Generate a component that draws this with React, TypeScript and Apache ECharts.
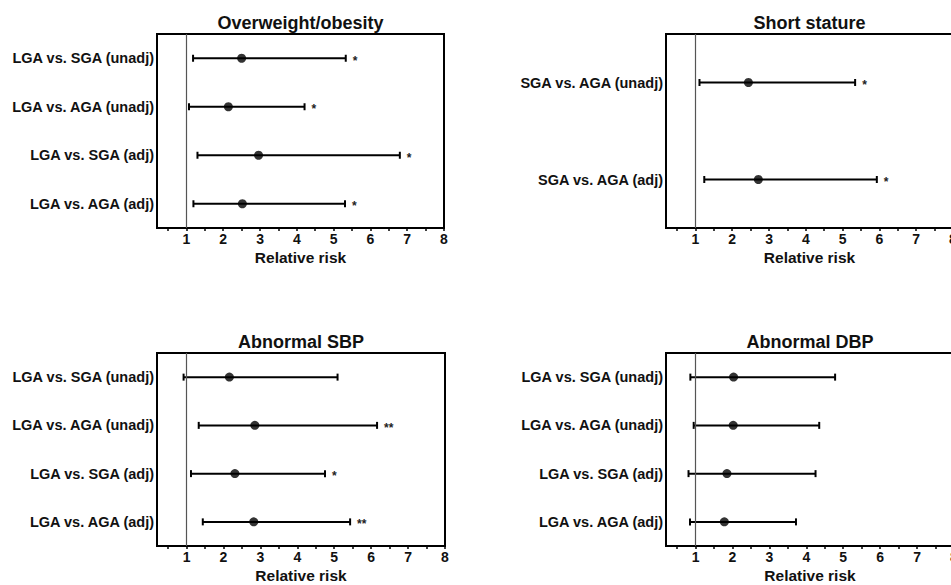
import React, { useEffect, useRef } from "react";
import * as echarts from "echarts";

const FONT = "'Liberation Sans', Arial, Helvetica, sans-serif";

// Shared axis
const xLabelValues = [1, 2, 3, 4, 5, 6, 7, 8];
const xTickValues = [0.5, 1, 1.5, 2, 2.5, 3, 3.5, 4, 4.5, 5, 5.5, 6, 6.5, 7, 7.5, 8];
const xMin = 0.2;
const xMax = 8;
const xName = "Relative risk";

// Panel 1: Overweight/obesity
const owTitle = "Overweight/obesity";
const owCategories = ["LGA vs. SGA (unadj)", "LGA vs. AGA (unadj)", "LGA vs. SGA (adj)", "LGA vs. AGA (adj)"];
const owRR = [2.5, 2.14, 2.96, 2.52];
const owLower = [1.18, 1.07, 1.3, 1.19];
const owUpper = [5.33, 4.21, 6.8, 5.31];
const owSig = ["*", "*", "*", "*"];

// Panel 2: Short stature
const ssTitle = "Short stature";
const ssCategories = ["SGA vs. AGA (unadj)", "SGA vs. AGA (adj)"];
const ssRR = [2.44, 2.71];
const ssLower = [1.11, 1.24];
const ssUpper = [5.34, 5.93];
const ssSig = ["*", "*"];

// Panel 3: Abnormal SBP
const sbpTitle = "Abnormal SBP";
const sbpCategories = ["LGA vs. SGA (unadj)", "LGA vs. AGA (unadj)", "LGA vs. SGA (adj)", "LGA vs. AGA (adj)"];
const sbpRR = [2.16, 2.85, 2.31, 2.82];
const sbpLower = [0.92, 1.33, 1.12, 1.44];
const sbpUpper = [5.09, 6.16, 4.75, 5.43];
const sbpSig = ["", "**", "*", "**"];

// Panel 4: Abnormal DBP
const dbpTitle = "Abnormal DBP";
const dbpCategories = ["LGA vs. SGA (unadj)", "LGA vs. AGA (unadj)", "LGA vs. SGA (adj)", "LGA vs. AGA (adj)"];
const dbpRR = [2.03, 2.02, 1.85, 1.78];
const dbpLower = [0.86, 0.95, 0.81, 0.85];
const dbpUpper = [4.78, 4.35, 4.25, 3.72];
const dbpSig = ["", "", "", ""];

const panels = [
  { title: owTitle, cats: owCategories, rr: owRR, lo: owLower, hi: owUpper, sig: owSig, box: { left: 157, top: 34, width: 287, height: 194 } },
  { title: ssTitle, cats: ssCategories, rr: ssRR, lo: ssLower, hi: ssUpper, sig: ssSig, box: { left: 666, top: 34, width: 287, height: 194 } },
  { title: sbpTitle, cats: sbpCategories, rr: sbpRR, lo: sbpLower, hi: sbpUpper, sig: sbpSig, box: { left: 157, top: 353, width: 288, height: 193 } },
  { title: dbpTitle, cats: dbpCategories, rr: dbpRR, lo: dbpLower, hi: dbpUpper, sig: dbpSig, box: { left: 666, top: 353, width: 288, height: 193 } },
];

function buildOption() {
  const grid: any[] = [];
  const xAxis: any[] = [];
  const yAxis: any[] = [];
  const series: any[] = [];
  const graphic: any[] = [];

  panels.forEach((p, k) => {
    grid.push({
      left: p.box.left,
      top: p.box.top,
      width: p.box.width,
      height: p.box.height,
      show: true,
      borderColor: "#000",
      borderWidth: 2,
      backgroundColor: "transparent",
      containLabel: false,
      outerBoundsMode: "none",
    });
    xAxis.push({
      type: "value",
      gridIndex: k,
      min: xMin,
      max: xMax,
      name: xName,
      nameLocation: "middle",
      nameGap: 21,
      nameTextStyle: { fontFamily: FONT, fontWeight: "bold", fontSize: 15.5, color: "#111" },
      axisLine: { show: true, lineStyle: { color: "#000", width: 2 } },
      axisTick: { show: true, customValues: xTickValues, length: 3, inside: false, lineStyle: { color: "#000", width: 1.5 } },
      axisLabel: { show: true, customValues: xLabelValues, fontFamily: FONT, fontWeight: "bold", fontSize: 14, color: "#111", margin: 4 },
      splitLine: { show: false },
    });
    yAxis.push({
      type: "category",
      gridIndex: k,
      data: p.cats,
      inverse: true,
      axisLine: { show: true, lineStyle: { color: "#000", width: 2 } },
      axisTick: { show: false },
      axisLabel: { fontFamily: FONT, fontWeight: "bold", fontSize: 14.5, color: "#111", margin: 3 },
      splitLine: { show: false },
    });
    const sig = p.sig;
    series.push({
      type: "custom",
      xAxisIndex: k,
      yAxisIndex: k,
      silent: true,
      encode: { x: [0, 1], y: 2 },
      data: p.cats.map((c, i) => [p.lo[i], p.hi[i], i]),
      renderItem: (params: any, api: any) => {
        const idx = api.value(2);
        const a = api.coord([api.value(0), idx]);
        const b = api.coord([api.value(1), idx]);
        const h = 3.5;
        const st = { stroke: "#000", lineWidth: 2 };
        const s = sig[params.dataIndex] || "";
        return {
          type: "group",
          children: [
            { type: "line", shape: { x1: a[0], y1: a[1], x2: b[0], y2: b[1] }, style: st },
            { type: "line", shape: { x1: a[0], y1: a[1] - h, x2: a[0], y2: a[1] + h }, style: st },
            { type: "line", shape: { x1: b[0], y1: b[1] - h, x2: b[0], y2: b[1] + h }, style: st },
            {
              type: "text",
              x: b[0] + 7,
              y: b[1] + 2.5,
              style: {
                text: s,
                fill: "#222",
                fontFamily: FONT,
                fontWeight: "bold",
                fontSize: 12,
                align: "left",
                verticalAlign: "middle",
                textAlign: "left",
                textVerticalAlign: "middle",
              },
            },
          ],
        };
      },
    });
    series.push({
      type: "scatter",
      xAxisIndex: k,
      yAxisIndex: k,
      silent: true,
      symbol: "circle",
      symbolSize: 9,
      itemStyle: { color: "#000" },
      data: p.rr.map((v, i) => [v, i]),
      z: 5,
      markLine: {
        silent: true,
        symbol: ["none", "none"],
        label: { show: false },
        lineStyle: { color: "#555", width: 1.2, type: "solid" },
        data: [{ xAxis: 1 }],
      },
    });
    graphic.push({
      type: "text",
      x: p.box.left + p.box.width / 2,
      y: p.box.top - 11,
      style: {
        text: p.title,
        fill: "#111",
        fontFamily: FONT,
        fontWeight: "bold",
        fontSize: 18,
        align: "center",
        verticalAlign: "middle",
        textAlign: "center",
        textVerticalAlign: "middle",
      },
    });
  });

  return {
    animation: false,
    backgroundColor: "#fff",
    grid,
    xAxis,
    yAxis,
    series,
    graphic,
  };
}

export default function App() {
  const ref = useRef<HTMLDivElement>(null);
  useEffect(() => {
    if (!ref.current) return;
    const chart = echarts.init(ref.current, null, { renderer: "svg" });
    chart.setOption(buildOption() as any);
    return () => chart.dispose();
  }, []);
  return (
    <div
      ref={ref}
      style={{ position: "fixed", left: 0, top: 0, width: 951, height: 585, background: "#fff" }}
    />
  );
}
